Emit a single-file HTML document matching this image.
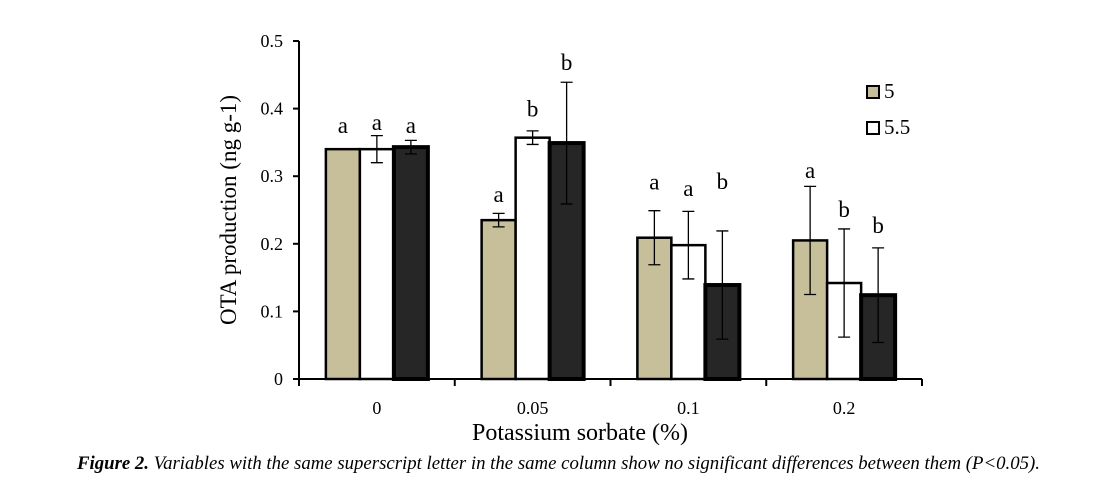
<!DOCTYPE html>
<html><head><meta charset="utf-8"><style>
body{margin:0;background:#fff;width:1116px;height:489px;overflow:hidden;font-family:"Liberation Serif",serif}
#cap{position:absolute;left:77px;top:453px;font-size:18.8px;font-style:italic;white-space:nowrap}
</style></head><body>
<svg id="chart" width="1116" height="450" style="position:absolute;left:0;top:0" font-family="Liberation Serif, serif"></svg>
<div id="cap"><b>Figure 2.</b> Variables with the same superscript letter in the same column show no significant differences between them (P&lt;0.05).</div>
<script>
const categories=["0","0.05","0.1","0.2"];
const seriesNames=["5","5.5","6"];
const s5=[0.34,0.235,0.209,0.205];
const s55=[0.34,0.357,0.198,0.142];
const s6=[0.343,0.349,0.139,0.124];
const e5=[0,0.01,0.04,0.08];
const e55=[0.02,0.01,0.05,0.08];
const e6=[0.01,0.09,0.08,0.07];
const letters5=["a","a","a","a"];
const letters55=["a","b","a","b"];
const letters6=["a","b","b","b"];
const letterY5=[0.364,0.262,0.28,0.297];
const letterY55=[0.368,0.388,0.271,0.24];
const letterY6=[0.364,0.457,0.281,0.216];
const yTicks=[0,0.1,0.2,0.3,0.4,0.5];
const yTickLabels=["0","0.1","0.2","0.3","0.4","0.5"];

const svg=document.getElementById('chart');
const NS='http://www.w3.org/2000/svg';
const X0=299,X1=922,Y0=379,Y1=41,YMAX=0.5;
const y=v=>Y0-(v/YMAX)*(Y0-Y1);
const bw=(X1-X0)/categories.length;
const xc=i=>X0+bw*(i+0.5);
const barW=34;
function mk(t,a){const e=document.createElementNS(NS,t);for(const k in a)e.setAttribute(k,a[k]);svg.appendChild(e);return e;}
const fills=["#c7bf9a","#ffffff","#262626"];
const sw=[2.5,2.5,4];
const vals=[s5,s55,s6],errs=[e5,e55,e6],lets=[letters5,letters55,letters6],ly=[letterY5,letterY55,letterY6];
for(let s=0;s<3;s++){
  for(let i=0;i<categories.length;i++){
    const x=xc(i)+(s-1.5)*barW, v=vals[s][i];
    const r=mk('rect',{x:x,y:y(v),width:barW,height:Y0-y(v),fill:fills[s],stroke:'#000','stroke-width':sw[s]});
    
    
    const cx=x+barW/2,er=errs[s][i];
    if(er>0){
      const g=mk('path',{d:`M${cx} ${y(v+er)}V${y(v-er)}M${cx-6} ${y(v+er)}h12M${cx-6} ${y(v-er)}h12`,stroke:'#000','stroke-width':1.3,fill:'none'});
      
      
    }
    const t=mk('text',{x:cx,y:y(ly[s][i]),'text-anchor':'middle','font-size':23});
    t.textContent=lets[s][i];
    
    
  }
}
const ax=mk('path',{d:`M${X0} ${Y1}V${Y0}H${X1}`,stroke:'#000','stroke-width':2,fill:'none'});


yTicks.forEach((v,i)=>{
  const tk=mk('path',{d:`M${X0-6} ${y(v)}H${X0}`,stroke:'#000','stroke-width':2});
  
  
  const t=mk('text',{x:283,y:y(v)+6,'text-anchor':'end','font-size':18});
  t.textContent=yTickLabels[i];
  
  
});
for(let i=0;i<=categories.length;i++){
  const tk=mk('path',{d:`M${X0+bw*i} ${Y0}v7`,stroke:'#000','stroke-width':2});
  
  
}
categories.forEach((c,i)=>{
  const t=mk('text',{x:xc(i),y:414,'text-anchor':'middle','font-size':18});
  t.textContent=c;
  
  
});
const yt=mk('text',{x:0,y:0,transform:'translate(236,210) rotate(-90)','text-anchor':'middle','font-size':23});
yt.textContent='OTA production (ng g-1)';


const xt=mk('text',{x:580,y:440,'text-anchor':'middle','font-size':24});
xt.textContent='Potassium sorbate (%)';


[0,1].forEach(s=>{
  const yy=86+s*36;
  const r=mk('rect',{x:867,y:yy,width:12,height:12,fill:fills[s],stroke:'#000','stroke-width':2});
  
  
  const t=mk('text',{x:884,y:yy+12,'font-size':21});
  t.textContent=seriesNames[s];
  
  
});
</script>
</body></html>
